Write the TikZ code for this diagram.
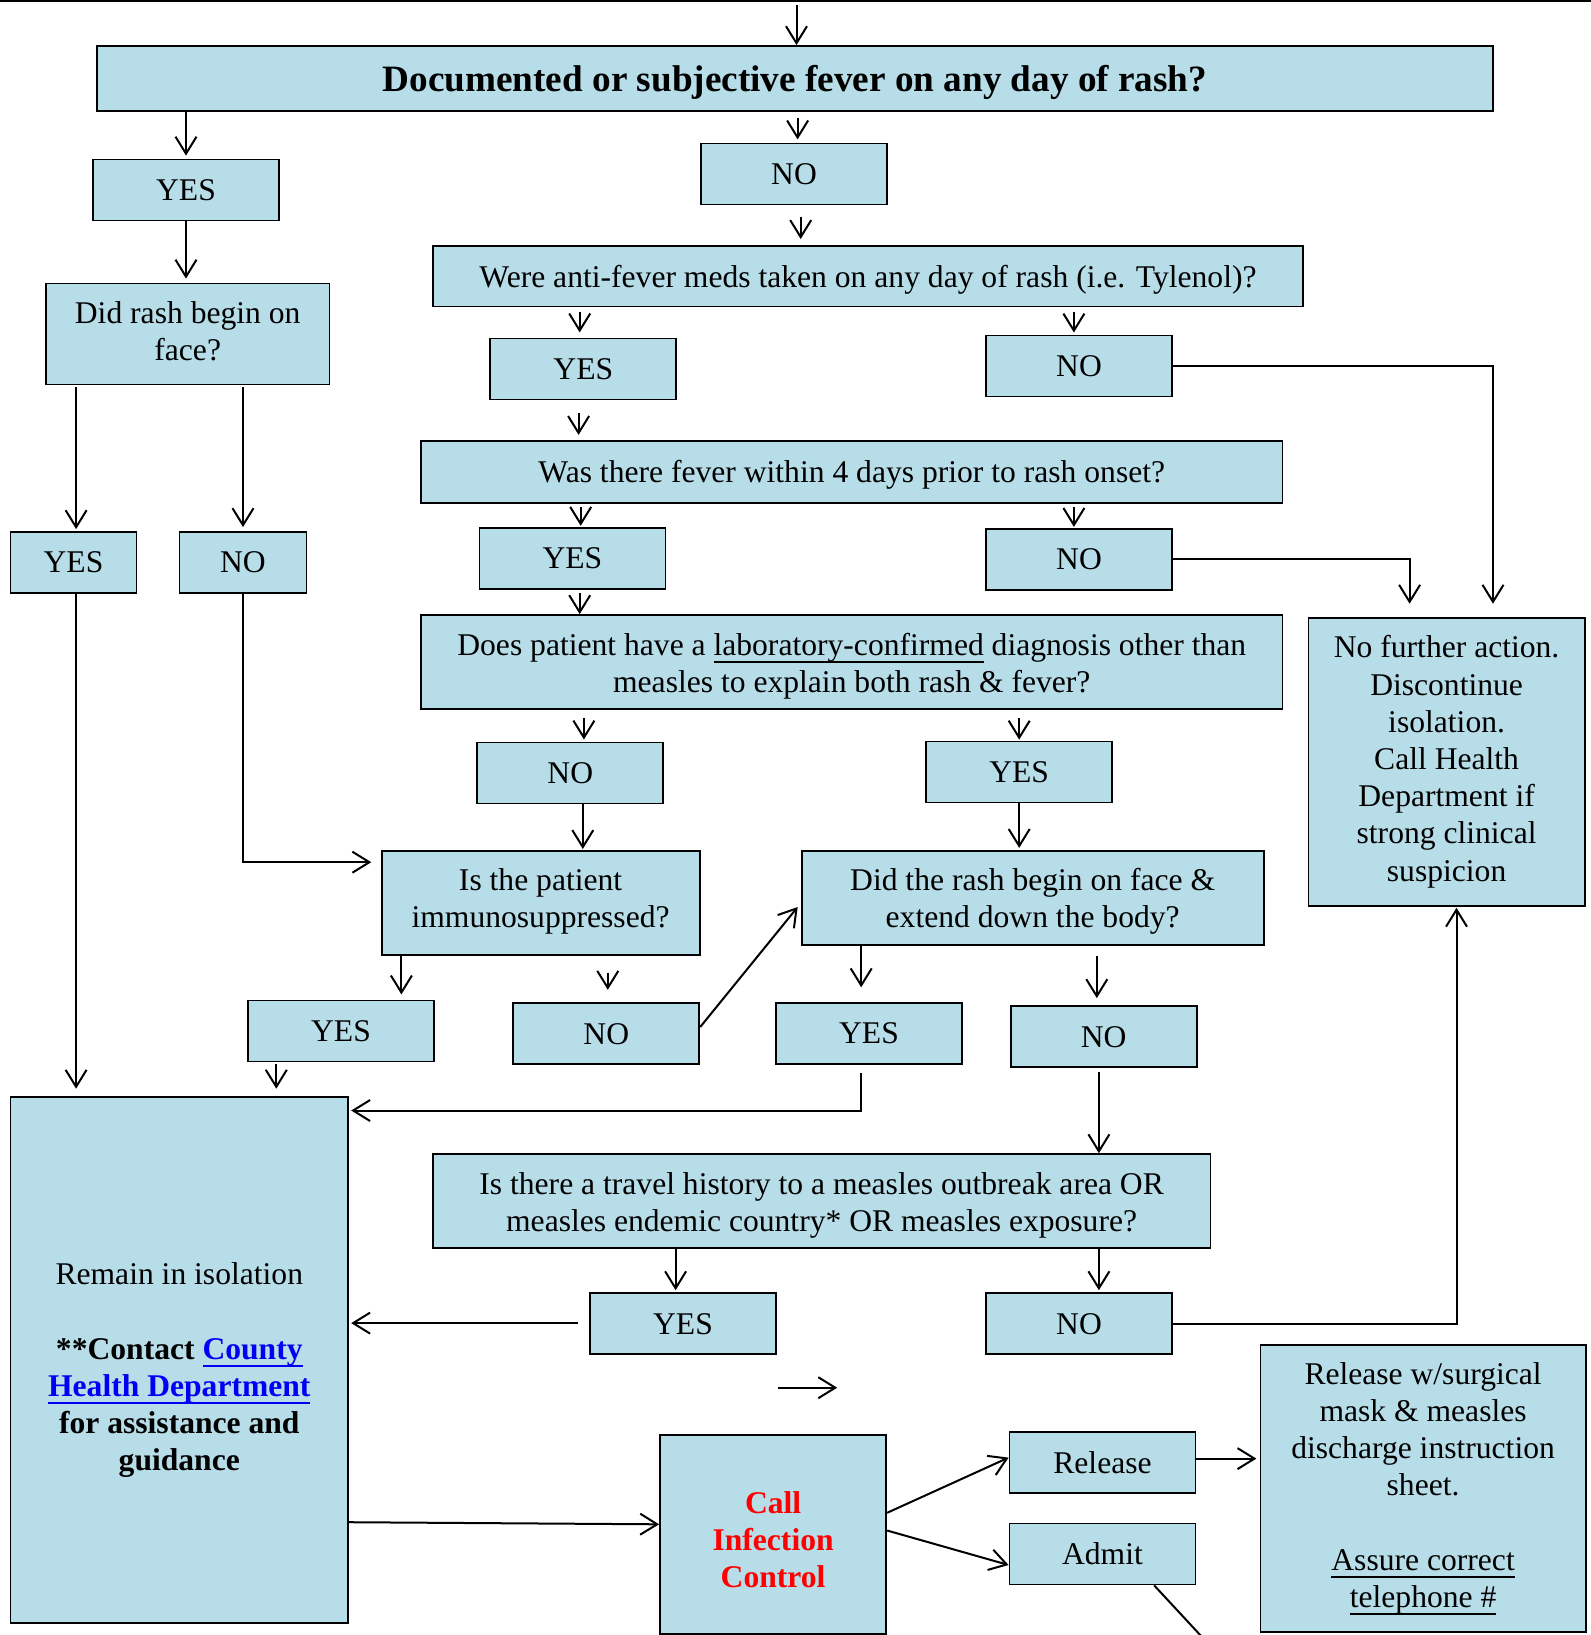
\documentclass[tikz,border=0pt]{standalone}
\usepackage{fontspec}
\setmainfont{Liberation Serif}
\usetikzlibrary{arrows.meta,calc}
\definecolor{boxblue}{RGB}{183,221,232}
\definecolor{linkblue}{RGB}{0,0,245}

\newsavebox{\ulbox}
\newcommand{\uln}[1]{\sbox{\ulbox}{#1}\rlap{\rule[-3.8pt]{\wd\ulbox}{0.9pt}}\usebox{\ulbox}}
\tikzset{sz/.style n args={3}{minimum width=#1, minimum height=#2, execute at begin node={\rule[\dimexpr#3-#2\relax]{0pt}{#2}}}}

\begin{document}
\begin{tikzpicture}[x=0.5pt,y=-0.5pt]
%positions are in pixels of the page, y runs down; sz = width, height, last baseline from top
\tikzstyle{box}=[draw, line width=0.9pt, fill=boxblue, align=center, inner sep=0pt, font=\fontsize{15.8}{18.6}\selectfont]
\tikzstyle{ans}=[box, sz={93pt}{30.5pt}{20.45pt}]
\tikzstyle{arr}=[-{Straight Barb[length=8.5pt,width=10.5pt]}, line width=1pt]
\useasboundingbox (0,0) rectangle (1591,1635);
\draw[line width=1pt] (0,1) -- (1591,1);

\node[box, sz={698pt}{32.5pt}{22.5pt}, font=\fontsize{18.6}{22}\selectfont\bfseries] (Q1) at (795,78.5) {Documented or subjective fever on any day of rash?};
\node[ans](Y1) at (186,190) {YES};
\node[ans](N1) at (794,174) {NO};
\node[box, sz={141.8pt}{50.5pt}{38.7pt}] (Q2) at (187.7,334) {Did rash begin on\\face?};
\node[box, sz={435.3pt}{30.2pt}{20.5pt}] (Q3) at (868,276.3) {Were anti-fever meds taken on any day of rash (i.e. Tylenol)?};
\node[ans](Y2) at (583.3,369) {YES};
\node[ans](N2) at (1079,366) {NO};
\node[box, sz={430.6pt}{30.8pt}{20.7pt}] (Q4) at (851.8,471.8) {Was there fever within 4 days prior to rash onset?};
\node[ans](Y3) at (572.4,558.3) {YES};
\node[ans](N3) at (1079,559.4) {NO};
\node[box, sz={430.6pt}{47pt}{38.6pt}] (Q5) at (851.8,662) {Does patient have a \uln{laboratory-confirmed} diagnosis other than\\measles to explain both rash \& fever?};
\node[ans](N4) at (570.3,773) {NO};
\node[ans](Y4) at (1019.2,772) {YES};
\node[box, sz={159pt}{52pt}{38.3pt}] (Q6) at (540.6,902.9) {Is the patient\\immunosuppressed?};
\node[box, sz={230.9pt}{46.9pt}{38.3pt}] (Q7) at (1032.7,897.7) {Did the rash begin on face \&\\extend down the body?};
\node[ans, minimum width=63pt](Y5) at (73.5,562.5) {YES};
\node[ans, minimum width=63.5pt](N5) at (243,562.5) {NO};
\node[ans](Y6) at (341,1031) {YES};
\node[ans](N6) at (606.3,1033.7) {NO};
\node[ans](Y7) at (869,1033.3) {YES};
\node[ans](N7) at (1103.6,1036.8) {NO};
\node[box, sz={388.9pt}{46.9pt}{38.8pt}] (Q8) at (821.6,1201) {Is there a travel history to a measles outbreak area OR\\measles endemic country* OR measles exposure?};
\node[ans](Y8) at (683,1323.6) {YES};
\node[ans](N8) at (1079,1323.6) {NO};
\node[box, sz={138.2pt}{143.8pt}{131.45pt}] (R1) at (1446.6,762) {No further action.\\Discontinue\\isolation.\\Call Health\\Department if\\strong clinical\\suspicion};
\node[box, sz={168.9pt}{263.2pt}{186.9pt}] (R2) at (179.3,1360) {Remain in isolation\\[18.6pt]\textbf{**Contact \textcolor{linkblue}{\uln{County}}}\\\textbf{\textcolor{linkblue}{\uln{Health Department}}}\\\textbf{for assistance and}\\\textbf{guidance}};
\node[box, sz={113.1pt}{99.6pt}{76.45pt}, font=\fontsize{15.8}{18.6}\selectfont\bfseries, text=red] (C) at (773.1,1534.2) {Call\\Infection\\Control};
\node[ans](RL) at (1102.5,1462.8) {Release};
\node[ans](AD) at (1102.5,1554) {Admit};
\node[box, sz={162.7pt}{143.3pt}{131.2pt}] (R3) at (1423.1,1488.3) {Release w/surgical\\mask \& measles\\discharge instruction\\sheet.\\[18.6pt]\uln{Assure correct}\\\uln{telephone \#}};

\coordinate (S) at (796.5,5);
\coordinate (T1) at (777.8,1387.7);
\coordinate (T2) at (837.2,1387.7);
\coordinate (E) at (1201.1,1636);

\draw[arr] (S) -- (S |- Q1.north);
\draw[arr, shorten >=1.5pt] (Q1.south -| Y1) -- (Y1);
\draw[arr] ($(Q1.south -| N1)+(3.6,5.8)$) -- ($(N1.north)+(3.6,-3.2)$);
\draw[arr, shorten >=2pt] (Y1) -- (Y1 |- Q2.north);
\draw[arr] ($(N1.south)+(6.7,11.5)$) -- ($(N1.south |- Q3.north)+(6.7,-6.2)$);
\draw[arr] ($(Q3.south -| Y2)+(-3.6,4.2)$) -- ($(Y2.north)+(-3.6,-5.2)$);
\draw[arr] ($(Q3.south -| N2)+(-5.1,4.2)$) -- ($(N2.north)+(-5.1,-2.1)$);
\draw[arr] (N2.east) -| ($(R1.north)+(46.4,-13.6)$);
\draw[arr] ($(Y2.south)+(-4.7,12.5)$) -- ($(Y2.south |- Q4.north)+(-4.7,-5.2)$);
\draw[arr] ($(Q4.south -| Y3)+(8.3,3.2)$) -- ($(Y3.north)+(8.3,-1.1)$);
\draw[arr] ($(Q4.south -| N3)+(-5.1,3.2)$) -- ($(N3.north)+(-5.1,-1.1)$);
\draw[arr] (N3.east) -| ($(R1.north)+(-37,-13.6)$);
\draw[arr] ($(Y3.south)+(7.3,3.2)$) -- ($(Y3.south |- Q5.north)+(7.3,0)$);
\draw[arr] ($(Q5.south -| N4)+(13.6,8.3)$) -- ($(N4.north)+(13.6,-2.1)$);
\draw[arr] ($(Q5.south -| Y4)+(0,8.3)$) -- ($(Y4.north)+(0,-1)$);
\draw[arr] ($(N4.south)+(12.5,0)$) -- ($(N4.south |- Q6.north)+(12.5,-1)$);
\draw[arr, shorten >=1pt] (Y4) -- (Y4 |- Q7.north);
\draw[arr] ($(Q2.south -| Y5)+(2.6,2)$) -- ($(Y5.north)+(2.6,-2)$);
\draw[arr, shorten <=1pt, shorten >=2pt] (Q2.south -| N5) -- (N5);
\draw[arr] (N5.south) |- ($(Q6.west)+(-9.4,-40.7)$);
\draw[arr] ($(Y5.south)+(2.6,0)$) -- ($(Y5.south |- R2.north)+(2.6,-7.2)$);
\draw[arr] ($(Q6.south -| Y6)+(60.4,0)$) -- ($(Y6.north)+(60.4,-5.2)$);
\draw[arr] ($(Q6.south -| N6)+(1.5,16.7)$) -- ($(N6.north)+(1.5,-12.5)$);
\draw[arr] ($(N6.east)+(0,-6.7)$) -- ($(Q7.west)+(-3.2,9.3)$);
\draw[arr] ($(Q7.south -| Y7)+(-7.8,0)$) -- ($(Y7.north)+(-7.8,-14.6)$);
\draw[arr] ($(Q7.south -| N7)+(-6.8,10.4)$) -- ($(N7.north)+(-6.8,-7.3)$);
\draw[arr] ($(Y6.south)+(-64.7,2)$) -- ($(Y6.south |- R2.north)+(-64.7,-7.2)$);
\draw[arr] ($(Y7.south)+(-7.8,8.3)$) |- ($(R2.north east)+(2.1,14.6)$);
\draw[arr] ($(N7.south)+(-4.7,4)$) -- ($(N7.south |- Q8.north)+(-4.7,0)$);
\draw[arr] ($(Q8.south -| Y8)+(-7.4,0)$) -- ($(Y8.north)+(-7.4,-2)$);
\draw[arr] ($(Q8.south -| N8)+(19.9,0)$) -- ($(N8.north)+(19.9,-2)$);
\draw[arr] ($(Y8.west)+(-11.5,-0.5)$) -- ($(Y8.west -| R2.east)+(2.1,-0.5)$);
\draw[arr] (N8.east) -| ($(R1.south)+(9.9,1.1)$);
\draw[arr] (T1) -- (T2);
\draw[arr] ($(R2.east)+(0,162.2)$) -- ($(C.west)+(0,-9.9)$);
\draw[arr] ($(C.east)+(0,-21.4)$) -- ($(RL.west)+(0,-5.2)$);
\draw[arr] ($(C.east)+(0,-3.7)$) -- ($(AD.west)+(0,11)$);
\draw[arr] ($(RL.east)+(0,-4.2)$) -- ($(RL.east -| R3.west)+(-3.1,-4.2)$);
\draw[line width=1pt] ($(AD.south)+(51.7,0)$) -- (E);
\end{tikzpicture}
\end{document}
